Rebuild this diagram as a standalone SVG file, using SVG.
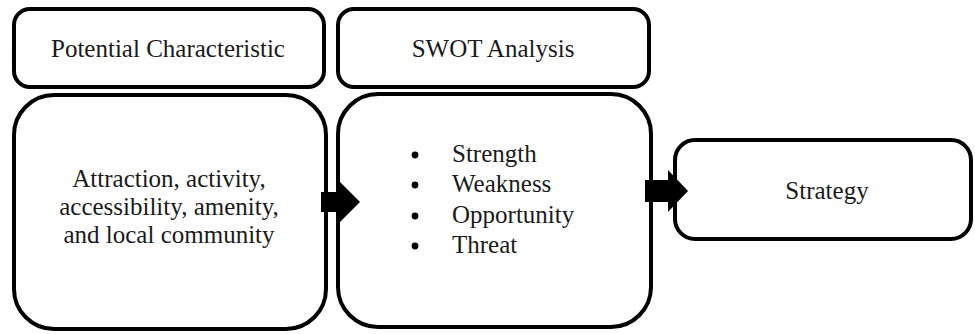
<svg xmlns="http://www.w3.org/2000/svg" width="975" height="334" viewBox="0 0 975 334">
  <style>
    .box { fill: #ffffff; stroke: #000000; stroke-width: 4; }
    .label { font-family: "Liberation Serif", "Times New Roman", serif; font-size: 25px; fill: #1a1a1a; }
    .mid { text-anchor: middle; }
    .arrow { fill: #000000; }
  </style>
  <rect width="975" height="334" fill="#ffffff"/>

  <!-- header boxes -->
  <g id="header-potential">
    <rect class="box" x="14" y="9" width="310" height="78" rx="16"/>
    <text class="label mid" x="168" y="57">Potential Characteristic</text>
  </g>
  <g id="header-swot">
    <rect class="box" x="338" y="9" width="311" height="78" rx="16"/>
    <text class="label mid" x="493" y="57">SWOT Analysis</text>
  </g>

  <!-- main stage boxes -->
  <g id="potential">
    <rect class="box" x="14" y="95" width="312" height="234" rx="40"/>
    <text class="label mid" x="169" y="187">Attraction, activity,</text>
    <text class="label mid" x="169" y="215">accessibility, amenity,</text>
    <text class="label mid" x="169" y="243">and local community</text>
  </g>
  <g id="swot">
    <rect class="box" x="338" y="94" width="313" height="233" rx="40"/>
    <circle cx="415" cy="155" r="3.4" fill="#000"/>
    <circle cx="415" cy="185" r="3.4" fill="#000"/>
    <circle cx="415" cy="216" r="3.4" fill="#000"/>
    <circle cx="415" cy="246" r="3.4" fill="#000"/>
    <text class="label" x="452" y="162">Strength</text>
    <text class="label" x="452" y="192">Weakness</text>
    <text class="label" x="452" y="223">Opportunity</text>
    <text class="label" x="452" y="253">Threat</text>
  </g>
  <g id="strategy">
    <rect class="box" x="675" y="140" width="296" height="99" rx="20"/>
    <text class="label mid" x="827" y="199">Strategy</text>
  </g>

  <!-- connectors: block arrows -->
  <g id="connectors">
    <polygon class="arrow" points="321,192 340,192 340,182 360,202 340,222 340,212 321,212"/>
    <polygon class="arrow" points="645,180 668,180 668,170 688,191 668,212 668,202 645,202"/>
  </g>
</svg>
